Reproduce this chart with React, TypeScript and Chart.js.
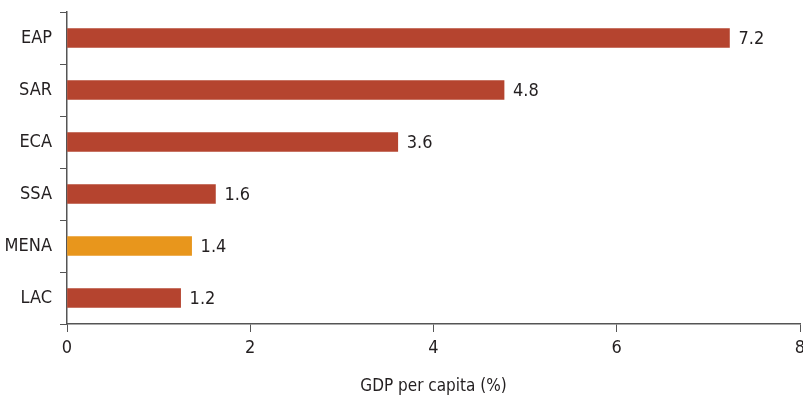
import React, { useEffect, useRef } from "react";
import { Chart, registerables } from "chart.js";

Chart.register(...registerables);

const categories = ["EAP", "SAR", "ECA", "SSA", "MENA", "LAC"];
const values = [7.23, 4.77, 3.61, 1.62, 1.36, 1.24];
const highlight = ["MENA"];
const xTicks = [0, 2, 4, 6, 8];
const axisTitle = "GDP per capita (%)";

const RED = "#B5442F";
const ORANGE = "#E8961C";
const TEXT = "#231F20";
const AXIS = "#555555";
const FONT = "'DejaVu Sans Condensed', 'Liberation Sans Narrow', sans-serif";

const valueLabels = {
  id: "valueLabels",
  afterDatasetsDraw(chart: any) {
    const ctx = chart.ctx;
    const meta = chart.getDatasetMeta(0);
    ctx.save();
    ctx.font = `18px ${FONT}`;
    ctx.fillStyle = TEXT;
    ctx.textAlign = "left";
    ctx.textBaseline = "middle";
    meta.data.forEach((el: any, i: number) => {
      ctx.fillText(values[i].toFixed(1), el.x + 9, el.y + 1);
    });
    ctx.restore();
  },
};

export default function App() {
  const ref = useRef<HTMLCanvasElement>(null);
  useEffect(() => {
    if (!ref.current) return;
    const chart = new Chart(ref.current, {
      type: "bar",
      data: {
        labels: categories,
        datasets: [
          {
            data: values,
            backgroundColor: categories.map((c) => (highlight.includes(c) ? ORANGE : RED)),
            barThickness: 19,
          },
        ],
      },
      options: {
        indexAxis: "y",
        animation: false,
        responsive: true,
        maintainAspectRatio: false,
        layout: { padding: { top: 12, right: 3, left: 0, bottom: 0 } },
        plugins: { legend: { display: false }, tooltip: { enabled: false } },
        scales: {
          x: {
            min: 0,
            max: 8,
            afterBuildTicks: (scale: any) => {
              scale.ticks = xTicks.map((v) => ({ value: v }));
            },
            afterFit: (scale: any) => {
              scale.height = 76;
              scale.paddingRight = 0;
              scale.paddingLeft = 0;
            },
            grid: {
              drawOnChartArea: false,
              drawTicks: true,
              tickLength: 8,
              color: AXIS,
              lineWidth: 1,
            },
            border: { display: true, color: AXIS, width: 1.5 },
            ticks: {
              color: TEXT,
              padding: 6,
              maxRotation: 0,
              font: { family: FONT, size: 18 },
            },
            title: {
              display: true,
              text: axisTitle,
              color: TEXT,
              font: { family: FONT, size: 17 },
              padding: { top: 0, bottom: 3 },
            },
          },
          y: {
            afterFit: (scale: any) => {
              scale.width = 67;
              scale.paddingTop = 0;
              scale.paddingBottom = 0;
            },
            grid: {
              drawOnChartArea: false,
              drawTicks: true,
              tickLength: 7,
              color: AXIS,
              lineWidth: 1,
              offset: true,
            },
            border: { display: true, color: AXIS, width: 1.5 },
            ticks: {
              color: TEXT,
              padding: 8,
              font: { family: FONT, size: 18 },
            },
          },
        },
      },
      plugins: [valueLabels],
    });
    return () => chart.destroy();
  }, []);
  return (
    <div style={{ position: "fixed", left: 0, top: 0, width: 803, height: 400, background: "#fff" }}>
      <canvas ref={ref} />
    </div>
  );
}
